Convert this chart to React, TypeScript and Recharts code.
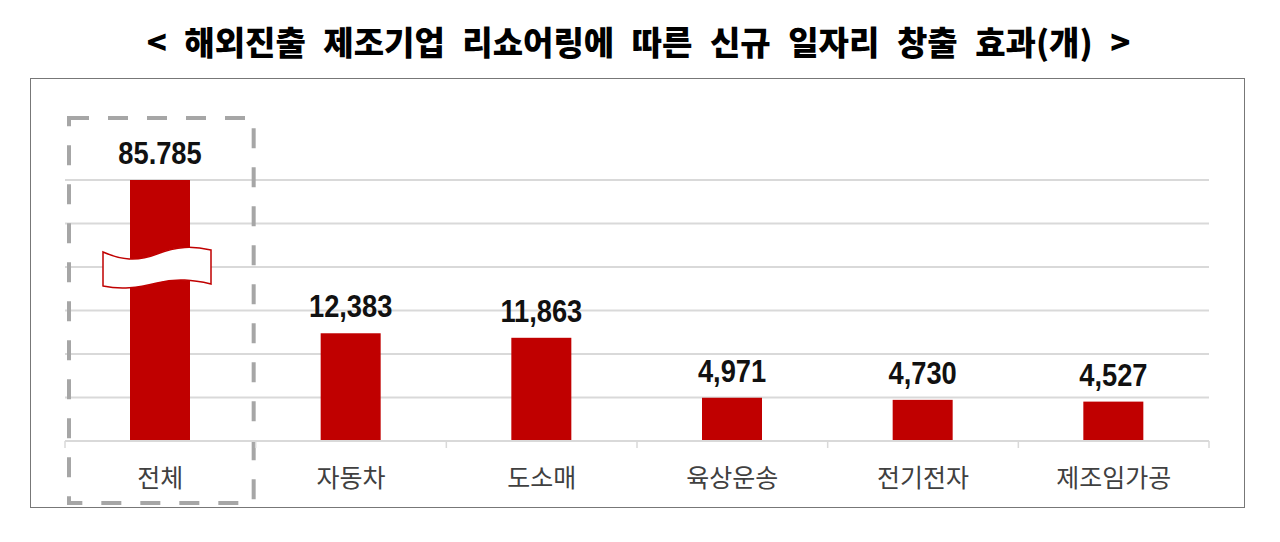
import React from 'react';
import { BarChart, Bar, XAxis, YAxis, CartesianGrid, LabelList, ReferenceArea } from 'recharts';

const categories = ['전체', '자동차', '도소매', '육상운송', '전기전자', '제조임가공'];
const jobValues = [85785, 12383, 11863, 4971, 4730, 4527];
const valueLabels = ['85.785', '12,383', '11,863', '4,971', '4,730', '4,527'];
const yTicks = [0, 5000, 10000, 15000, 20000, 25000, 30000];
const axisMax = 30000;
const titleText = '< 해외진출 제조기업 리쇼어링에 따른 신규 일자리 창출 효과(개) >';

const data = categories.map((name, i) => ({
  name,
  value: Math.min(jobValues[i], axisMax),
  actual: jobValues[i],
  label: valueLabels[i],
  broken: jobValues[i] > axisMax,
}));

const RED = '#c00000';

const BarShape = (props: any) => {
  const { x, y, width, height } = props;
  const broken = props.broken ?? props.payload?.broken;
  const cx = x + width / 2 - 3;
  const cy = y + height * 0.337;
  return (
    <g>
      <rect x={x} y={y} width={width} height={height} fill={RED} />
      {broken && (
        <path
          transform={`translate(${cx},${cy})`}
          d="M -54 -16 C -36 -8 -20 -6 0 -14 S 36 -22 54 -18 L 54 16 C 36 12 20 10 0 15 S -36 22 -54 18 Z"
          fill="#ffffff"
          stroke={RED}
          strokeWidth={1.5}
        />
      )}
    </g>
  );
};

const ValueLabel = (props: any) => {
  const { x, y, width, value } = props;
  const cx = Number(x) + Number(width) / 2;
  const by = Number(y) - 16;
  return (
    <text
      transform={`translate(${cx},${by}) scale(0.88,1)`}
      x={0}
      y={0}
      textAnchor="middle"
      fontFamily="'Liberation Sans', Arial, sans-serif"
      fontWeight={700}
      fontSize={31}
      fill="#111111"
    >
      {value}
    </text>
  );
};

const CategoryTick = (props: any) => {
  const { x, y, payload, index, visibleTicksCount } = props;
  const half = payload?.offset ?? 95.3;
  const isLast = index === (visibleTicksCount ?? categories.length) - 1;
  return (
    <g>
      <line x1={x - half} x2={x - half} y1={y} y2={y + 7} stroke="#d9d9d9" strokeWidth={1.5} />
      {isLast && <line x1={x + half} x2={x + half} y1={y} y2={y + 7} stroke="#d9d9d9" strokeWidth={1.5} />}
      <text
        x={x}
        y={y + 46}
        textAnchor="middle"
        fontFamily="'Noto Sans CJK KR', sans-serif"
        fontSize={25}
        fill="#404040"
      >
        {payload.value}
      </text>
    </g>
  );
};

const DashedBox = (props: any) => {
  const { x, y, width, height } = props;
  return (
    <rect
      x={x + 4}
      y={y - 62}
      width={width - 6}
      height={height + 124}
      fill="none"
      stroke="#a6a6a6"
      strokeWidth={4}
      strokeDasharray="20 19"
    />
  );
};

export default function App() {
  return (
    <div style={{ position: 'absolute', left: 0, top: 0, width: 1280, height: 542, background: '#fff' }}>
      <div
        style={{
          position: 'absolute',
          left: 0,
          top: 24,
          width: 1277,
          height: 34,
          lineHeight: '34px',
          textAlign: 'center',
          fontFamily: "'Noto Sans CJK KR', sans-serif",
          fontWeight: 900,
          fontSize: 33,
          wordSpacing: 10,
          color: '#000',
          whiteSpace: 'nowrap',
        }}
      >
        {titleText}
      </div>
      <div
        style={{
          position: 'absolute',
          left: 30,
          top: 78,
          width: 1215,
          height: 430,
          border: '1px solid #777',
          boxSizing: 'border-box',
        }}
      />
      <div style={{ position: 'absolute', left: 0, top: 0 }}>
        <BarChart
          width={1280}
          height={542}
          data={data}
          margin={{ top: 180, right: 71, bottom: 40, left: 65 }}
          barSize={60}
        >
          <CartesianGrid horizontal vertical={false} stroke="#d9d9d9" strokeWidth={2} />
          <ReferenceArea x1="전체" x2="전체" y1={0} y2={axisMax} shape={<DashedBox />} ifOverflow="visible" />
          <XAxis
            dataKey="name"
            height={61}
            axisLine={{ stroke: '#d9d9d9', strokeWidth: 2 }}
            tickLine={false}
            tickSize={0}
            tickMargin={0}
            interval={0}
            tick={<CategoryTick />}
          />
          <YAxis hide domain={[0, axisMax]} ticks={yTicks} />
          <Bar dataKey="value" isAnimationActive={false} shape={<BarShape />}>
            <LabelList dataKey="label" content={<ValueLabel />} />
          </Bar>
        </BarChart>
      </div>
    </div>
  );
}
